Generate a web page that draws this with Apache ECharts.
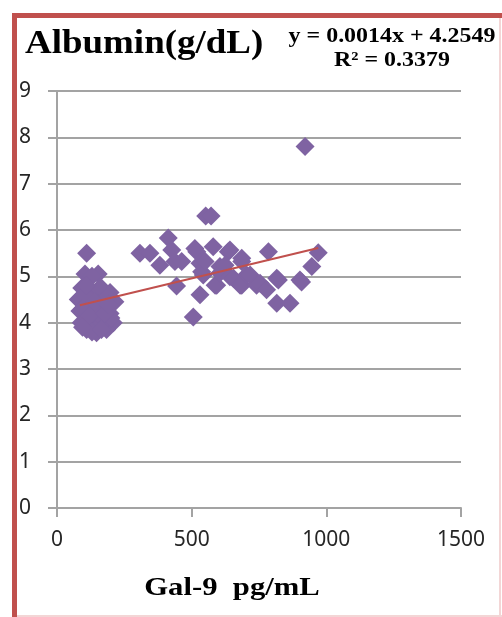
<!DOCTYPE html>
<html>
<head>
<meta charset="utf-8">
<script src="https://cdn.jsdelivr.net/npm/echarts@6/dist/echarts.min.js"></script>
<style>
  html, body { margin: 0; padding: 0; background: #fff; }
  #main { width: 502px; height: 617px; }
</style>
</head>
<body>
<div id="main"></div>
<script>
// Gal-9 (pg/mL) vs Albumin (g/dL)
const galValues = [
  110, 104, 153, 130, 92, 197, 120, 150, 79, 215, 123, 170, 85, 197, 135, 160, 110, 180,
  104, 172, 209, 140, 90, 110, 147, 184, 125, 160, 200,
  100, 165, 185, 95, 150, 120, 175, 130, 165, 95, 140, 110, 190,
  308, 345, 413, 426, 382, 438, 444, 463, 506, 512, 519, 531, 531, 537, 543, 550,
  552, 572, 580, 587, 593, 605, 605, 624, 636, 642, 642, 655, 680, 686, 686, 686,
  704, 717, 741, 754, 778, 785, 816, 822, 816, 865, 902, 908, 921, 946, 970
];
const albuminValues = [
  5.5, 5.05, 5.05, 5.0, 4.75, 4.65, 4.6, 4.7, 4.5, 4.45, 4.5, 4.5, 4.25, 4.2, 4.3, 4.35, 4.4, 4.3,
  4.05, 4.05, 4.0, 4.1, 4.0, 3.85, 3.78, 3.85, 3.9, 3.95, 4.1,
  4.6, 4.75, 4.55, 4.3, 4.2, 4.15, 4.2, 3.8, 3.85, 3.9, 4.45, 4.8, 4.4,
  5.5, 5.5, 5.83, 5.57, 5.24, 5.32, 4.79, 5.32, 4.12, 5.6, 5.53, 4.6, 5.28, 5.1, 5.03, 5.32,
  6.3, 6.3, 5.64, 4.81, 4.81, 5.21, 5.07, 5.24, 5.53, 5.57, 4.99, 4.96, 4.81, 5.39, 5.32, 4.81,
  5.03, 5.03, 4.81, 4.85, 4.71, 5.53, 4.96, 4.92, 4.42, 4.42, 4.92, 4.88, 7.8, 5.21, 5.51
];

// linear trend line as printed on the chart
const trendSlope = 0.0014;
const trendIntercept = 4.2549;
const trendX = [85, 970];

const xTicks = [0, 500, 1000, 1500];
const yTicks = [0, 1, 2, 3, 4, 5, 6, 7, 8, 9];

const points = galValues.map((x, i) => [x, albuminValues[i]]);
const trendPoints = trendX.map((x) => [x, trendSlope * x + trendIntercept]);

const chart = echarts.init(document.getElementById("main"));

const gridGray = "#a3a3a3";
const serif = "'Liberation Serif', 'DejaVu Serif', serif";

const option = {
  backgroundColor: "#fff",
  animation: false,
  grid: { left: 57, right: 41, top: 91, bottom: 109 },
  xAxis: {
    type: "value",
    min: xTicks[0],
    max: xTicks[xTicks.length - 1],
    interval: 500,
    axisLine: { show: true, lineStyle: { color: gridGray, width: 2 } },
    axisTick: { show: true, length: 9, lineStyle: { color: gridGray, width: 2 } },
    splitLine: { show: false },
    axisLabel: {
      margin: 22,
      fontFamily: "'Noto Sans', sans-serif",
      fontSize: 21,
      color: "#262626",
      formatter: (v) => String(v),
    },
  },
  yAxis: {
    type: "value",
    min: yTicks[0],
    max: yTicks[yTicks.length - 1],
    interval: 1,
    axisLine: { show: true, lineStyle: { color: gridGray, width: 2 } },
    axisTick: { show: true, length: 9, lineStyle: { color: gridGray, width: 2 } },
    splitLine: { show: true, lineStyle: { color: gridGray, width: 2 } },
    axisLabel: {
      margin: 26,
      fontFamily: "'Noto Sans', sans-serif",
      fontSize: 21,
      color: "#262626",
      formatter: (v) => String(v),
    },
  },
  series: [
    {
      name: "Albumin",
      type: "scatter",
      symbol: "diamond",
      symbolSize: 19,
      itemStyle: { color: "#7f63a2", opacity: 1 },
      data: points,
      z: 2,
    },
    {
      name: "Trend",
      type: "line",
      data: trendPoints,
      showSymbol: false,
      symbol: "none",
      lineStyle: { color: "#c0504d", width: 2 },
      z: 3,
    },
  ],
  graphic: [
    // frame
    { type: "rect", shape: { x: 12, y: 13, width: 490, height: 5 }, style: { fill: "#c0504d" } },
    { type: "rect", shape: { x: 12, y: 13, width: 5, height: 604 }, style: { fill: "#c0504d" } },
    { type: "rect", shape: { x: 499, y: 18, width: 2, height: 599 }, style: { fill: "#f3d6d6" } },
    { type: "rect", shape: { x: 17, y: 615, width: 485, height: 2 }, style: { fill: "#f3d6d6" } },
    // titles
    {
      type: "text",
      x: 25,
      y: 44,
      scaleX: 1.12,
      style: {
        text: "Albumin(g/dL)",
        font: "bold 33px " + serif,
        fill: "#000",
        textAlign: "left",
        textVerticalAlign: "middle",
      },
    },
    {
      type: "text",
      x: 392,
      y: 37,
      scaleX: 1.14,
      style: {
        text: "y = 0.0014x + 4.2549",
        font: "bold 21px " + serif,
        fill: "#000",
        textAlign: "center",
        textVerticalAlign: "middle",
      },
    },
    {
      type: "text",
      x: 392,
      y: 61,
      scaleX: 1.14,
      style: {
        text: "R² = 0.3379",
        font: "bold 21px " + serif,
        fill: "#000",
        textAlign: "center",
        textVerticalAlign: "middle",
      },
    },
    {
      type: "text",
      x: 232,
      y: 588,
      scaleX: 1.18,
      style: {
        text: "Gal-9  pg/mL",
        font: "bold 26px " + serif,
        fill: "#000",
        textAlign: "center",
        textVerticalAlign: "middle",
      },
    },
  ],
};

chart.setOption(option);
</script>
</body>
</html>
